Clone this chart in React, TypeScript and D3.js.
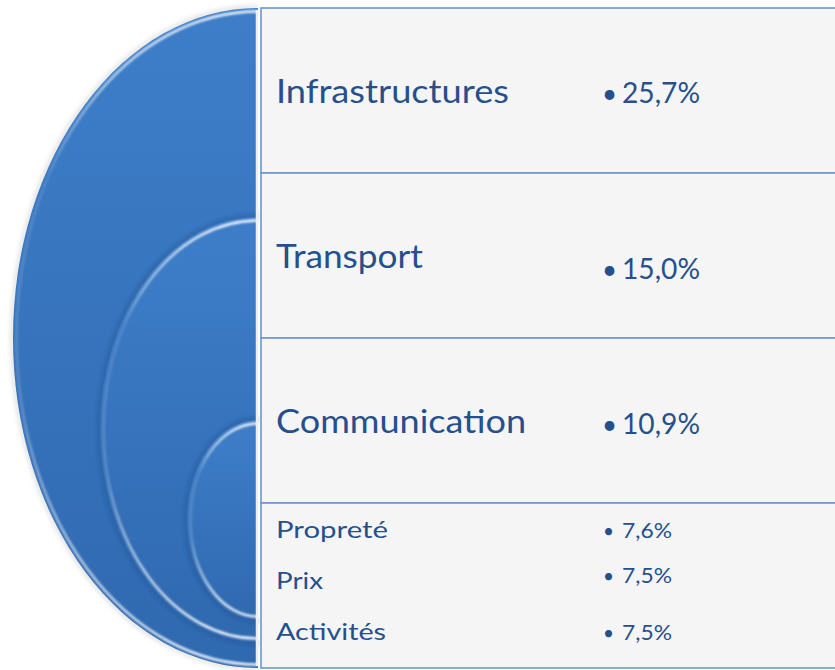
import React, { useEffect, useRef } from "react";
import * as d3 from "d3";

// main categories, one row each
const categories = ["Infrastructures", "Transport", "Communication"];
const shares = [25.7, 15.0, 10.9];
// grouped in the last row
const minorCategories = ["Propreté", "Prix", "Activités"];
const minorShares = [7.6, 7.5, 7.5];

const fmt = (v: number) => v.toFixed(1).replace(".", ",") + "%";

const W = 835;
const H = 670;
const edgeX = 258;
const textColor = "#24508d";
const font = "Lato, 'Open Sans', sans-serif";

// nested half ellipses (layout only)
const shapes = [
  { top: 8, bottom: 668, left: 13 },
  { top: 217, bottom: 642, left: 100 },
  { top: 420, bottom: 620, left: 187 },
];
const labelWidths = [233, 147, 250];
const valueDy = [0, 11, 1];
const minorLabelWidths = [112, 47, 110];
const minorValueDy = [0, -6, 0];

const App = () => {
  const ref = useRef<SVGSVGElement>(null);

  useEffect(() => {
    const svg = d3.select(ref.current);
    svg.selectAll("*").remove();
    const defs = svg.append("defs");

    const blur = defs.append("filter").attr("id", "soft").attr("x", "-10%").attr("y", "-10%").attr("width", "120%").attr("height", "120%");
    blur.append("feGaussianBlur").attr("stdDeviation", 1);
    const blur2 = defs.append("filter").attr("id", "shadow").attr("x", "-10%").attr("y", "-10%").attr("width", "120%").attr("height", "120%");
    blur2.append("feGaussianBlur").attr("stdDeviation", 2);

    const fillG = defs.append("linearGradient").attr("id", "fillG").attr("x1", 0).attr("y1", 0).attr("x2", 0).attr("y2", 1);
    fillG.append("stop").attr("offset", "0%").attr("stop-color", "#3e7ec9");
    fillG.append("stop").attr("offset", "100%").attr("stop-color", "#2f69b0");

    const hiG = defs.append("linearGradient").attr("id", "hiG").attr("x1", 0).attr("y1", 0).attr("x2", 0).attr("y2", 1);
    hiG.append("stop").attr("offset", "0%").attr("stop-color", "#fff").attr("stop-opacity", 0.95);
    hiG.append("stop").attr("offset", "25%").attr("stop-color", "#fff").attr("stop-opacity", 0.12);
    hiG.append("stop").attr("offset", "60%").attr("stop-color", "#fff").attr("stop-opacity", 0.2);
    hiG.append("stop").attr("offset", "100%").attr("stop-color", "#fff").attr("stop-opacity", 0.95);

    const half = (top: number, bottom: number, left: number, inset: number, close: boolean) => {
      const rx = edgeX - left - inset;
      const ry = (bottom - top) / 2 - inset;
      const cy = (top + bottom) / 2;
      let s = `M${edgeX},${cy - ry} A${rx},${ry} 0 0 0 ${edgeX},${cy + ry}`;
      if (close) s += " Z";
      return s;
    };

    const shapeG = svg.append("g");
    shapes.forEach((s, i) => {
      const g = shapeG.append("g");
      g.append("path")
        .attr("d", half(s.top, s.bottom, s.left, -1, false))
        .attr("fill", "none")
        .attr("stroke", i > 0 ? "#1b4a86" : "#999")
        .attr("stroke-opacity", i > 0 ? 0.55 : 0.35)
        .attr("stroke-width", 3)
        .attr("filter", "url(#shadow)");
      g.append("path")
        .attr("d", half(s.top, s.bottom, s.left, 0, true))
        .attr("fill", "url(#fillG)");
      g.append("path")
        .attr("d", half(s.top, s.bottom, s.left, 3.5, false))
        .attr("fill", "none")
        .attr("stroke", "url(#hiG)")
        .attr("stroke-width", 2.5)
        .attr("filter", "url(#soft)");
    });
    shapeG.append("line")
      .attr("x1", edgeX - 1).attr("x2", edgeX - 1)
      .attr("y1", 10).attr("y2", 666)
      .attr("stroke", "#e8f1fb")
      .attr("stroke-width", 2.5);

    // table rows
    const rows = d3.scaleBand<number>().domain(d3.range(categories.length + 1)).range([8, 668]);
    const tx = 261;
    svg.append("g")
      .selectAll("rect")
      .data(rows.domain())
      .join("rect")
      .attr("x", tx)
      .attr("y", (d) => rows(d)!)
      .attr("width", W - tx + 20)
      .attr("height", rows.bandwidth())
      .attr("fill", "#f5f5f5")
      .attr("stroke", "#6d97cf")
      .attr("stroke-width", 1.6);

    const labelX = 276;
    const bulletX = 602;
    const valueX = 622;

    const main = svg.append("g").attr("fill", textColor).attr("font-family", font);
    categories.forEach((c, i) => {
      const base = rows(i)! + 95;
      main.append("text")
        .attr("x", labelX).attr("y", base)
        .attr("font-size", 33)
        .attr("textLength", labelWidths[i])
        .attr("lengthAdjust", "spacingAndGlyphs")
        .text(c);
      main.append("text")
        .attr("x", bulletX).attr("y", base + valueDy[i])
        .attr("font-size", 26)
        .text("•");
      main.append("text")
        .attr("x", valueX).attr("y", base + valueDy[i])
        .attr("font-size", 28)
        .attr("textLength", 78)
        .attr("lengthAdjust", "spacingAndGlyphs")
        .text(fmt(shares[i]));
    });

    const last = rows(categories.length)!;
    const sub = d3.scalePoint<string>().domain(minorCategories).range([last + 35, last + 137]);
    minorCategories.forEach((c, i) => {
      const base = sub(c)!;
      main.append("text")
        .attr("x", labelX).attr("y", base)
        .attr("font-size", 22.5)
        .attr("textLength", minorLabelWidths[i])
        .attr("lengthAdjust", "spacingAndGlyphs")
        .text(c);
      main.append("text")
        .attr("x", bulletX + 1).attr("y", base + minorValueDy[i])
        .attr("font-size", 19)
        .text("•");
      main.append("text")
        .attr("x", valueX).attr("y", base + minorValueDy[i])
        .attr("font-size", 20.5)
        .attr("textLength", 50)
        .attr("lengthAdjust", "spacingAndGlyphs")
        .text(fmt(minorShares[i]));
    });
  }, []);

  return (
    <div style={{ position: "absolute", left: 0, top: 0 }}>
      <svg ref={ref} width={W} height={H} style={{ display: "block", background: "#fff" }}></svg>
    </div>
  );
};

export default App;
